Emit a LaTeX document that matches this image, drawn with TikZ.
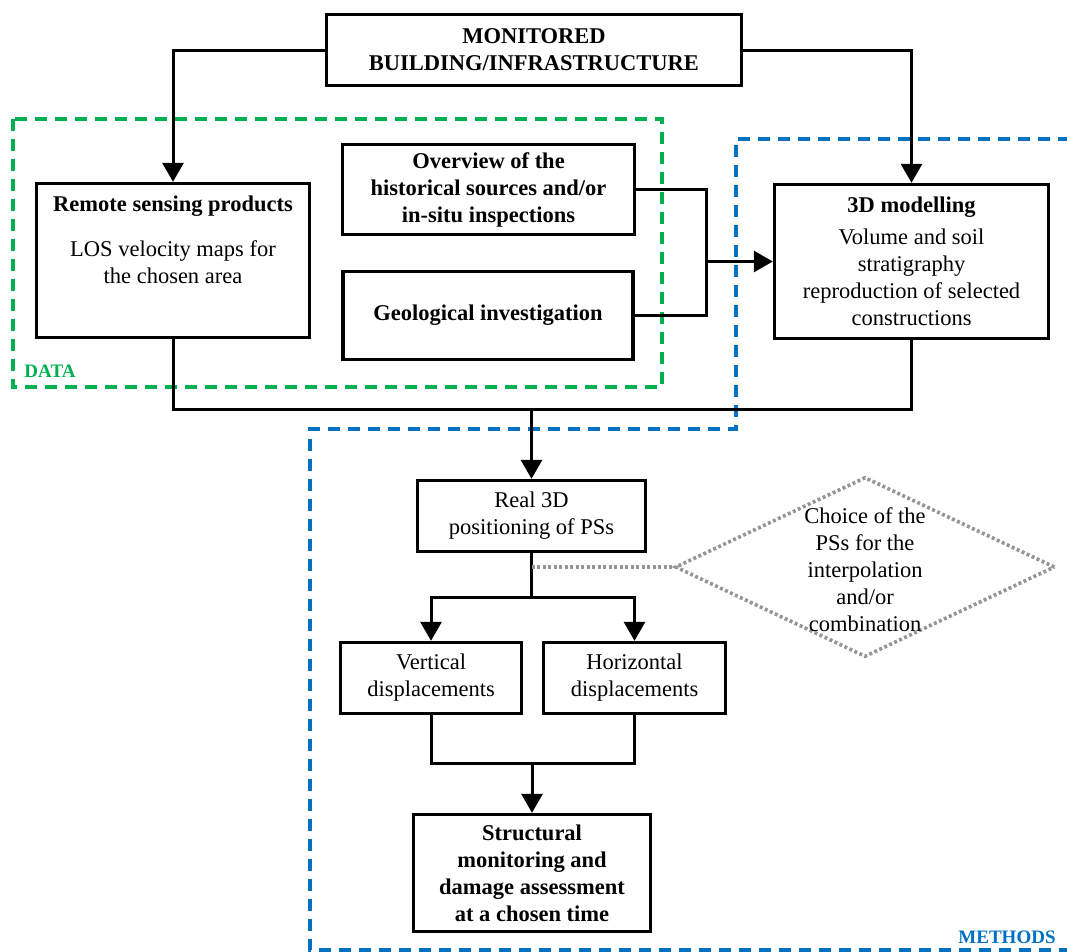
\documentclass[tikz,border=0pt]{standalone}
\usepackage{fontspec}
\setmainfont{Liberation Serif}
\usetikzlibrary{arrows.meta,positioning,shapes.geometric}
\definecolor{datagreen}{HTML}{00B050}
\definecolor{methblue}{HTML}{0070C0}
\definecolor{choicegray}{HTML}{959595}
\begin{document}
\begin{tikzpicture}[x=1pt,y=-1pt,
  box/.style={draw,line width=3.4pt,align=center,inner sep=2pt,
    font=\fontsize{22.5}{27}\selectfont},
  txt/.style={align=center,inner sep=0pt,font=\fontsize{22.5}{27}\selectfont},
  line/.style={line width=3pt},
  arr/.style={line width=3pt,-{Triangle[width=21pt,length=19pt]}},
  frame/.style={line width=3.2pt,dash pattern=on 12pt off 8pt},
  dots/.style={choicegray,line width=3.6pt,dash pattern=on 3pt off 2.5pt},
  choice/.style={diamond,draw,dots,minimum width=380pt,minimum height=180pt,inner sep=0pt},
  tag/.style={font=\fontsize{19}{22}\selectfont\bfseries}]
\path[use as bounding box,clip] (0,0) rectangle (1067,951);
% frames
\draw [frame,datagreen] (13,119) rectangle (662,387);
\node [tag,text=datagreen] (data) at (50,371) {DATA};
\draw [frame,methblue] (1090,139)--(736,139)--(736,429)--(310,429)--(310,950)--(1090,950);
\node [tag,text=methblue] (methods) at (1007,937) {METHODS};
% boxes
\node [box,minimum width=415pt,minimum height=71pt] (mon) at (534,50)
  {\textbf{MONITORED}\\\textbf{BUILDING/INFRASTRUCTURE}};
\node [box,minimum width=273pt,minimum height=154pt] (remote) at (173,260.5) {};
\node [txt,below=14pt of remote.north] (remotetxt)
  {\textbf{Remote sensing products}\\[18pt]LOS velocity maps for\\the chosen area};
\node [box,minimum width=292pt,minimum height=90pt] (overview) at (488.5,189.5)
  {\textbf{Overview of the}\\\textbf{historical sources and/or}\\\textbf{in-situ inspections}};
\node [box,minimum width=290pt,minimum height=88pt] (geo) at (488,315.5)
  {\textbf{Geological investigation}};
\node [box,minimum width=274pt,minimum height=154pt] (model) at (911.5,261.5)
  {\textbf{3D modelling}\\[5pt]Volume and soil\\stratigraphy\\reproduction of selected\\constructions};
\node [box,minimum width=228pt,minimum height=71pt] (real) at (531.5,516)
  {Real 3D\\positioning of PSs};
\node [choice] (choice) at (865,567) {};
\node [txt] (choicetxt) at (865,570)
  {Choice of the\\PSs for the\\interpolation\\and/or\\combination};
\node [box,minimum width=181pt,minimum height=71pt] (vert) at (431,678)
  {Vertical\\displacements};
\node [box,minimum width=182pt,minimum height=71pt] (horiz) at (634.5,678)
  {Horizontal\\displacements};
\node [box,minimum width=237pt,minimum height=117pt] (struct) at (532,873)
  {\textbf{Structural}\\\textbf{monitoring and}\\\textbf{damage assessment}\\\textbf{at a chosen time}};
% connectors
\draw [arr] (mon.west) -| (remote.north);
\draw [arr] (mon.east) -| (model.north);
\coordinate (jn) at (706,0 |- model.west);
\draw [line] (overview.east) -| (jn);
\draw [line] (geo.east) -| (jn);
\draw [arr] (jn) -- (model.west);
\coordinate (mg) at (real.north |- 0,409);
\draw [line] (remote.south) |- (mg);
\draw [line] (model.south) |- (mg);
\draw [arr] (mg) -- (real.north);
\coordinate (sp) at (real.south |- 0,597);
\draw [line] (real.south) -- (sp);
\draw [arr] (sp) -| (vert.north);
\draw [arr] (sp) -| (horiz.north);
\draw [dots] (real.south |- choice.west) -- (choice.west);
\coordinate (mg2) at (struct.north |- 0,763);
\draw [line] (vert.south) |- (mg2);
\draw [line] (horiz.south) |- (mg2);
\draw [arr] (mg2) -- (struct.north);
\end{tikzpicture}
\end{document}
